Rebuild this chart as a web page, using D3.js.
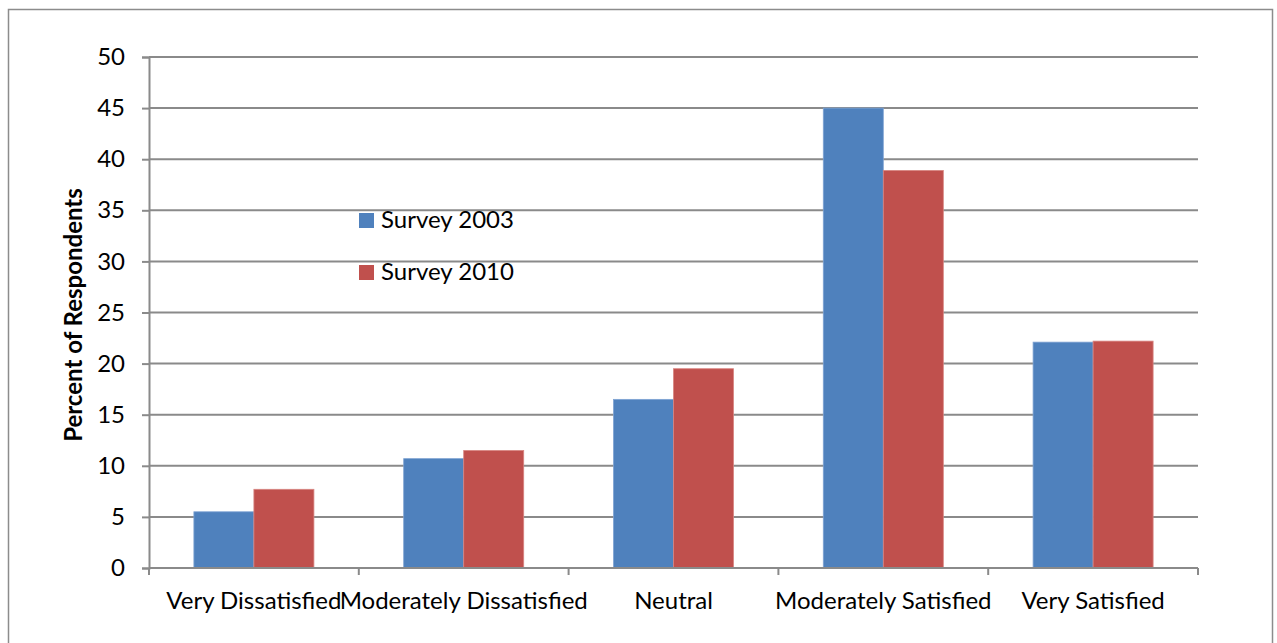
<!DOCTYPE html>
<html>
<head>
<meta charset="utf-8">
<script src="https://cdn.jsdelivr.net/npm/d3@7"></script>
<style>
  html, body { margin: 0; padding: 0; background: #fff; }
  svg { display: block; }
  text { font-family: Lato, "Open Sans", "Liberation Sans", sans-serif; fill: #000; }
</style>
</head>
<body>
<svg id="chart" width="1277" height="643"></svg>
<script>
// Satisfaction categories and the share of respondents per survey year
const categories = ["Very Dissatisfied", "Moderately Dissatisfied", "Neutral", "Moderately Satisfied", "Very Satisfied"];
const seriesNames = ["Survey 2003", "Survey 2010"];
const survey2003 = [5.5, 10.7, 16.5, 45.0, 22.1];
const survey2010 = [7.7, 11.5, 19.5, 38.9, 22.2];
const yTicks = [0, 5, 10, 15, 20, 25, 30, 35, 40, 45, 50];
const colors = ["#4F81BD", "#C0504D"];
const edgeColors = ["#7FA3D3", "#D88582"];

const seriesValues = [survey2003, survey2010];
const rows = categories.map((c, i) => ({ category: c, values: seriesValues.map(s => s[i]) }));

const svg = d3.select("#chart");

// outer chart frame
svg.append("rect")
  .attr("x", 8.5).attr("y", 9.5)
  .attr("width", 1264).attr("height", 650)
  .attr("fill", "none").attr("stroke", "#8c8c8c").attr("stroke-width", 1.5);

const plot = { left: 149, right: 1198, top: 57, bottom: 568 };

const x0 = d3.scaleBand().domain(categories).range([plot.left, plot.right]).padding(0);
const x1 = d3.scaleBand().domain(seriesNames).range([0, x0.bandwidth()]).paddingInner(0).paddingOuter(0.748);
const y = d3.scaleLinear().domain([0, 50]).range([plot.bottom, plot.top]);

// horizontal gridlines
svg.append("g").selectAll("line")
  .data(yTicks.filter(t => t > 0))
  .join("line")
  .attr("x1", plot.left).attr("x2", plot.right)
  .attr("y1", d => y(d)).attr("y2", d => y(d))
  .attr("stroke", "#8a8a8a").attr("stroke-width", 2);

// bars
const groups = svg.append("g").selectAll("g")
  .data(rows)
  .join("g")
  .attr("transform", d => `translate(${x0(d.category)},0)`);

groups.selectAll("rect")
  .data(d => d.values.map((v, i) => ({ name: seriesNames[i], value: v, i })))
  .join("rect")
  .attr("x", d => x1(d.name))
  .attr("y", d => y(d.value))
  .attr("width", x1.bandwidth())
  .attr("height", d => y(0) - y(d.value))
  .attr("fill", d => colors[d.i])
  .attr("stroke", d => edgeColors[d.i])
  .attr("stroke-width", 0.8);

// y axis
const yAxis = svg.append("g")
  .attr("transform", `translate(${plot.left},0)`)
  .call(d3.axisLeft(y).tickValues(yTicks).tickSize(7).tickPadding(17));
yAxis.select(".domain").attr("stroke", "#8a8a8a").attr("stroke-width", 2);
yAxis.selectAll(".tick line").attr("stroke", "#8a8a8a").attr("stroke-width", 2);
yAxis.selectAll(".tick text").attr("font-size", 24).style("font-family", "Lato, 'Open Sans', sans-serif");

// x axis, ticks at category boundaries
const xAxisG = svg.append("g");
xAxisG.append("line")
  .attr("x1", plot.left).attr("x2", plot.right)
  .attr("y1", plot.bottom).attr("y2", plot.bottom)
  .attr("stroke", "#8a8a8a").attr("stroke-width", 2);
const boundaries = categories.map(c => x0(c)).concat([plot.right]);
xAxisG.selectAll("line.tick")
  .data(boundaries)
  .join("line")
  .attr("class", "tick")
  .attr("x1", d => d).attr("x2", d => d)
  .attr("y1", plot.bottom).attr("y2", plot.bottom + 7)
  .attr("stroke", "#8a8a8a").attr("stroke-width", 2);
xAxisG.selectAll("text")
  .data(categories)
  .join("text")
  .attr("x", d => x0(d) + x0.bandwidth() / 2)
  .attr("y", 609)
  .attr("text-anchor", "middle")
  .attr("font-size", 24)
  .text(d => d);

// y axis title
svg.append("text")
  .attr("transform", "translate(82,315) rotate(-90)")
  .attr("text-anchor", "middle")
  .attr("font-size", 24)
  .attr("font-weight", "bold")
  .text("Percent of Respondents");

// legend
const legend = svg.append("g").selectAll("g")
  .data(seriesNames)
  .join("g")
  .attr("transform", (d, i) => `translate(359,${213 + i * 52})`);
legend.append("rect")
  .attr("width", 15).attr("height", 15)
  .attr("fill", (d, i) => colors[i]);
legend.append("text")
  .attr("x", 22).attr("y", 14.5)
  .attr("font-size", 24)
  .text(d => d);
</script>
</body>
</html>
